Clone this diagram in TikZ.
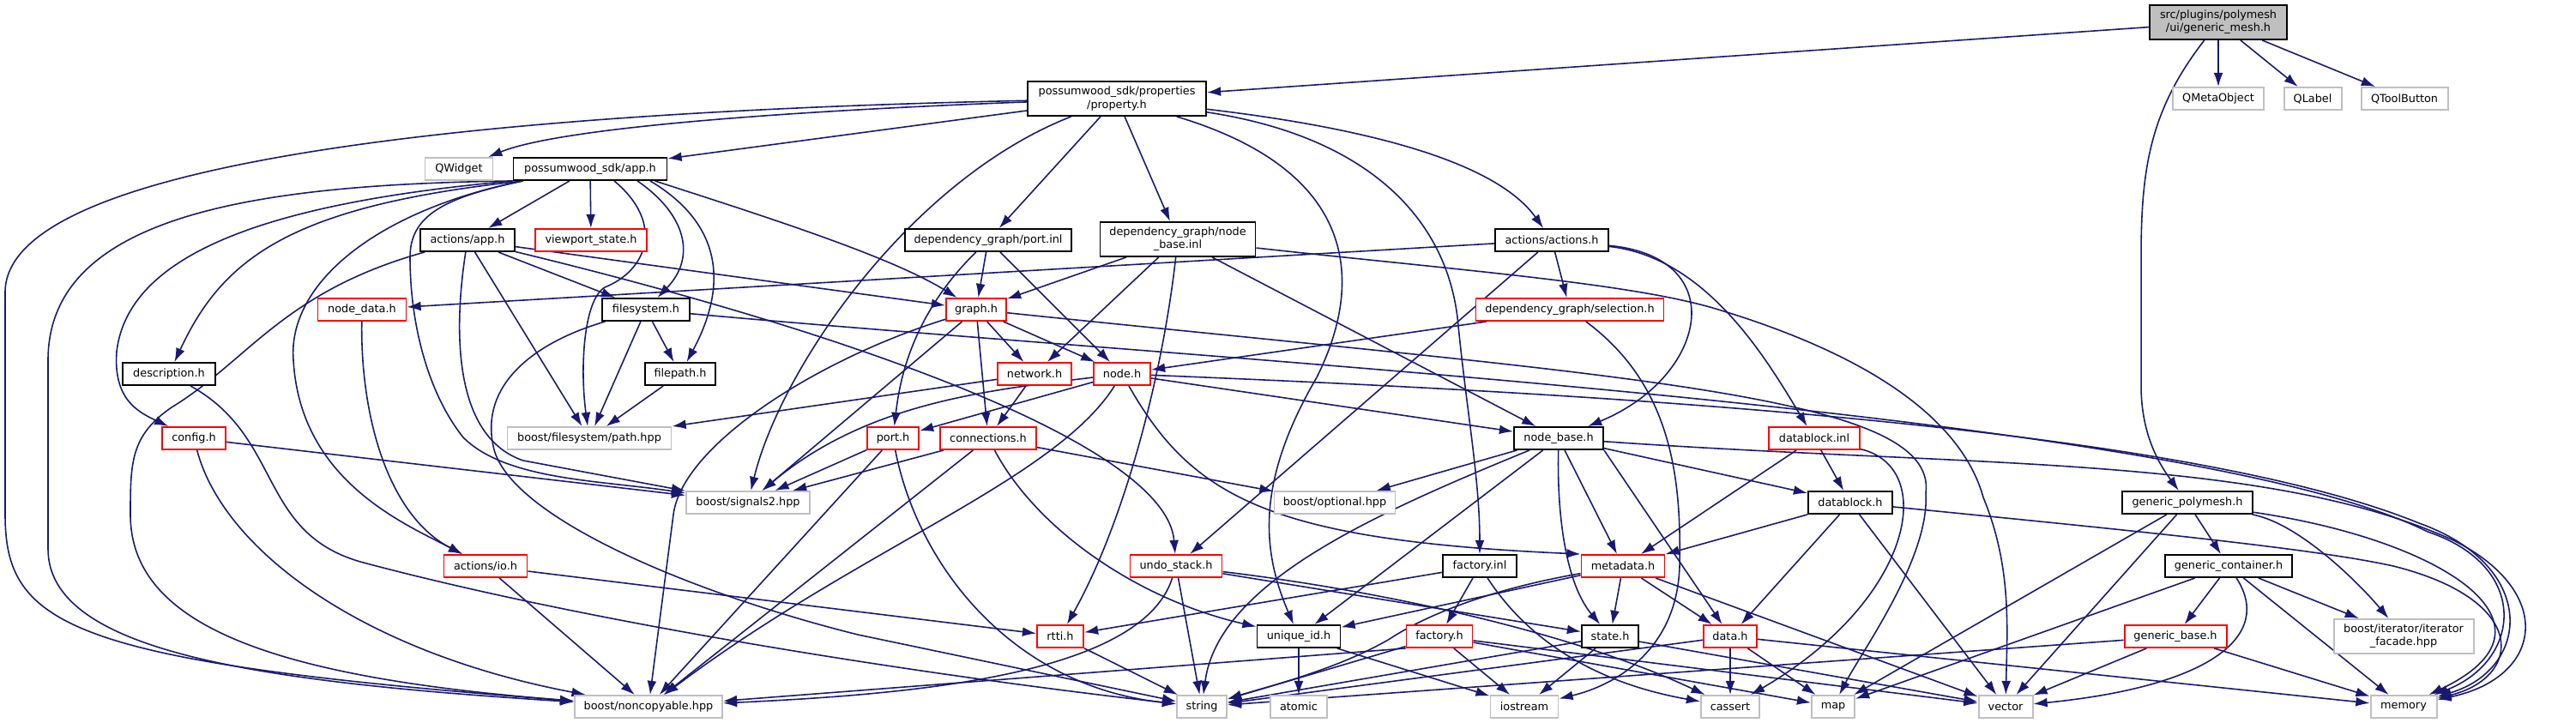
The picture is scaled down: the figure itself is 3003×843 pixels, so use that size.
\documentclass[tikz,border=0pt]{standalone}
\usepackage{fontspec}
\setmainfont{DejaVu Sans}
\usepackage{xcolor}
\usepackage{tikz}
\usetikzlibrary{arrows.meta, positioning, shapes, backgrounds}

\definecolor{edgeblue}{HTML}{191970}
\definecolor{extgray}{HTML}{BFBFBF}
\newcommand{\graphfont}{\fontsize{3.65}{4.3}\selectfont}

\begin{document}
\begin{tikzpicture}[x=0.1mm, y=-0.1mm, >={Latex[length=4.6pt,width=3.1pt]},
        every node/.style={rectangle, align=center, font=\graphfont, inner sep=0pt, minimum height=2.6mm, line width=0.55pt, fill=white},
        hdr/.style={draw=black},
        trunc/.style={draw=red},
        ext/.style={draw=extgray},
        root/.style={draw=black, fill=extgray},
        twoline/.style={minimum height=4mm},
        inc/.style={->, draw=edgeblue, line width=0.45pt}]
        \useasboundingbox (0,0) rectangle (3003,843);

        \node[root, twoline, minimum width=16mm] (genericmesh) at (2586,26) {src/plugins/polymesh\\/ui/generic\_mesh.h};
        \node[ext, minimum width=10.6mm] (qmetaobject) at (2586,115) {QMetaObject};
        \node[ext, minimum width=6.7mm] (qlabel) at (2696,115) {QLabel};
        \node[ext, minimum width=10.1mm] (qtoolbutton) at (2803,115) {QToolButton};
        \node[hdr, twoline, minimum width=20.8mm] (property) at (1302,115) {possumwood\_sdk/properties\\/property.h};
        \node[ext, minimum width=7.9mm] (qwidget) at (535,197) {QWidget};
        \node[hdr, minimum width=17.9mm] (sdkapp) at (688,197) {possumwood\_sdk/app.h};
        \node[hdr, minimum width=11mm] (actionsapp) at (545,280) {actions/app.h};
        \node[trunc, minimum width=13mm] (viewport) at (689,280) {viewport\_state.h};
        \node[hdr, minimum width=19.4mm] (portinl) at (1152,280) {dependency\_graph/port.inl};
        \node[hdr, twoline, minimum width=18.1mm] (nodebaseinl) at (1373,279) {dependency\_graph/node\\\_base.inl};
        \node[hdr, minimum width=13.2mm] (actions) at (1809,280) {actions/actions.h};
        \node[trunc, minimum width=10.3mm] (nodedata) at (422,361) {node\_data.h};
        \node[hdr, minimum width=10.2mm] (filesystem) at (753,361) {filesystem.h};
        \node[trunc, minimum width=7mm] (graphh) at (1138,361) {graph.h};
        \node[trunc, minimum width=21.9mm] (selection) at (1830,361) {dependency\_graph/selection.h};
        \node[hdr, minimum width=10.8mm] (description) at (197,436) {description.h};
        \node[hdr, minimum width=8.2mm] (filepath) at (793,436) {filepath.h};
        \node[trunc, minimum width=8.6mm] (networkh) at (1206,436) {network.h};
        \node[trunc, minimum width=6.6mm] (nodeh) at (1308,436) {node.h};
        \node[trunc, minimum width=7.4mm] (configh) at (226,511) {config.h};
        \node[ext, minimum width=19.1mm] (pathhpp) at (687,511) {boost/filesystem/path.hpp};
        \node[trunc, minimum width=6mm] (porth) at (1041,511) {port.h};
        \node[trunc, minimum width=11.2mm] (connectionsh) at (1152,511) {connections.h};
        \node[hdr, minimum width=10.4mm] (nodebase) at (1817,511) {node\_base.h};
        \node[trunc, minimum width=10.6mm] (datablockinl) at (2115,511) {datablock.inl};
        \node[ext, minimum width=14.4mm] (signals) at (872,586) {boost/signals2.hpp};
        \node[ext, minimum width=14.1mm] (optional) at (1556,586) {boost/optional.hpp};
        \node[hdr, minimum width=9.8mm] (datablock) at (2157,586) {datablock.h};
        \node[hdr, minimum width=15.2mm] (genericpolymesh) at (2550,586) {generic\_polymesh.h};
        \node[trunc, minimum width=9.7mm] (ioh) at (566,660) {actions/io.h};
        \node[trunc, minimum width=10.7mm] (undostack) at (1371,660) {undo\_stack.h};
        \node[hdr, minimum width=8.6mm] (factoryinl) at (1725,660) {factory.inl};
        \node[trunc, minimum width=9.7mm] (metadata) at (1892,660) {metadata.h};
        \node[hdr, minimum width=14.8mm] (genericcontainer) at (2598,660) {generic\_container.h};
        \node[trunc, minimum width=5.4mm] (rtti) at (1236,742) {rtti.h};
        \node[hdr, minimum width=9.7mm] (uniqueid) at (1514,742) {unique\_id.h};
        \node[trunc, minimum width=7.7mm] (factory) at (1678,742) {factory.h};
        \node[hdr, minimum width=6.6mm] (stateh) at (1877,742) {state.h};
        \node[trunc, minimum width=6.2mm] (datah) at (2017,742) {data.h};
        \node[trunc, minimum width=11.9mm] (genericbase) at (2536,742) {generic\_base.h};
        \node[ext, twoline, minimum width=16.3mm] (facade) at (2802,742) {boost/iterator/iterator\\\_facade.hpp};
        \node[ext, minimum width=17.2mm] (noncopyable) at (756,824) {boost/noncopyable.hpp};
        \node[ext, minimum width=5.8mm] (string) at (1401,824) {string};
        \node[ext, minimum width=6.6mm] (atomic) at (1514,824) {atomic};
        \node[ext, minimum width=7.9mm] (iostream) at (1777,824) {iostream};
        \node[ext, minimum width=6.8mm] (cassert) at (2017,824) {cassert};
        \node[ext, minimum width=5mm] (map) at (2137,824) {map};
        \node[ext, minimum width=6.3mm] (vector) at (2338,824) {vector};
        \node[ext, minimum width=7.7mm] (memory) at (2802,824) {memory};

        \begin{scope}[on background layer]
        \draw[inc] (genericmesh) -- (property);
        \draw[inc] (genericmesh) -- (qmetaobject);
        \draw[inc] (genericmesh) -- (qlabel);
        \draw[inc] (genericmesh) -- (qtoolbutton);
        \draw[inc] (genericmesh) .. controls (2505,130) and (2496,200) .. (2496,300) -- (2496,450) .. controls (2496,510) and (2520,545) .. (genericpolymesh);

        \draw[inc] (property) .. controls (900,130) and (650,150) .. (qwidget);
        \draw[inc] (property) -- (sdkapp);
        \draw[inc] (property) .. controls (700,128) and (8,170) .. (6,340) -- (6,600) .. controls (6,730) and (80,772) .. (noncopyable);
        \draw[inc] (property) .. controls (1060,210) and (910,430) .. (signals);
        \draw[inc] (property) -- (portinl);
        \draw[inc] (property) -- (nodebaseinl);
        \draw[inc] (property) .. controls (1585,200) and (1590,330) .. (1535,440) .. controls (1465,560) and (1470,640) .. (uniqueid);
        \draw[inc] (property) .. controls (1600,160) and (1690,260) .. (1700,380) .. controls (1710,480) and (1725,560) .. (factoryinl);
        \draw[inc] (property) .. controls (1600,150) and (1745,190) .. (actions);

        \draw[inc] (sdkapp.south west) .. controls (300,215) and (56,250) .. (56,420) -- (56,640) .. controls (56,760) and (300,795) .. (noncopyable);
        \draw[inc] (sdkapp.south west) .. controls (330,235) and (150,290) .. (136,410) .. controls (132,465) and (160,480) .. (configh);
        \draw[inc] ([xshift=1.2mm]sdkapp.south west) .. controls (340,240) and (260,300) .. (description);
        \draw[inc] ([xshift=1.2mm]sdkapp.south west) .. controls (440,245) and (335,330) .. (342,420) .. controls (350,560) and (470,610) .. (ioh);
        \draw[inc] ([xshift=1.2mm]sdkapp.south west) .. controls (520,230) and (478,250) .. (478,300) .. controls (478,380) and (500,460) .. (540,510) .. controls (590,560) and (700,560) .. (signals);
        \draw[inc] (sdkapp) -- (actionsapp);
        \draw[inc] (sdkapp) -- (viewport);
        \draw[inc] ([xshift=2.8mm]sdkapp.south) .. controls (775,260) and (755,315) .. (705,335) .. controls (680,350) and (676,430) .. (pathhpp);
        \draw[inc] ([xshift=5.5mm]sdkapp.south) .. controls (800,250) and (812,300) .. (filesystem);
        \draw[inc] ([xshift=7mm]sdkapp.south) .. controls (840,260) and (850,330) .. (filepath);
        \draw[inc] ([xshift=-1.5mm]sdkapp.south east) .. controls (900,255) and (1040,300) .. (graphh);

        \draw[inc] (actionsapp) .. controls (330,340) and (290,420) .. (200,475) .. controls (152,508) and (152,540) .. (152,600) .. controls (152,730) and (320,790) .. (noncopyable);
        \draw[inc] (actionsapp) -- (filesystem);
        \draw[inc] (actionsapp) -- (pathhpp);
        \draw[inc] (actionsapp) .. controls (528,390) and (530,510) .. (610,537) -- (signals);
        \draw[inc] (actionsapp) -- (graphh);
        \draw[inc] (actionsapp) .. controls (1000,390) and (1360,520) .. (undostack);

        \draw[inc] (portinl) -- (graphh);
        \draw[inc] (portinl) -- (nodeh);
        \draw[inc] (portinl) .. controls (1060,370) and (1048,450) .. (porth);

        \draw[inc] (nodebaseinl) -- (graphh);
        \draw[inc] (nodebaseinl) -- (networkh);
        \draw[inc] (nodebaseinl) -- (nodebase);
        \draw[inc] (nodebaseinl) .. controls (1355,440) and (1310,610) .. (rtti);
        \draw[inc] (nodebaseinl) .. controls (1700,315) and (1900,330) .. (2000,360) .. controls (2200,420) and (2290,500) .. (2312,580) .. controls (2345,660) and (2340,730) .. (vector);

        \draw[inc] (actions) -- (nodedata);
        \draw[inc] (actions) -- (selection);
        \draw[inc] (actions) .. controls (2020,300) and (1990,440) .. (nodebase);
        \draw[inc] (actions) -- (undostack);
        \draw[inc] (actions) .. controls (1990,300) and (2060,420) .. (datablockinl);

        \draw[inc] (nodedata) .. controls (420,480) and (450,600) .. (ioh);

        \draw[inc] (filesystem) -- (filepath);
        \draw[inc] (filesystem) -- (pathhpp);
        \draw[inc] (filesystem) .. controls (620,400) and (560,450) .. (575,520) .. controls (590,600) and (800,690) .. (1000,740) -- (string);
        \draw[inc] (filesystem) .. controls (1400,420) and (2550,480) .. (2830,620) .. controls (2950,660) and (2940,770) .. (memory);

        \draw[inc] (filepath) -- (pathhpp);

        \draw[inc] (graphh) -- (networkh);
        \draw[inc] (graphh) -- (nodeh);
        \draw[inc] (graphh) -- (connectionsh);
        \draw[inc] (graphh) .. controls (950,420) and (795,520) .. (785,600) -- (noncopyable);
        \draw[inc] (graphh) -- (signals);
        \draw[inc] (graphh) .. controls (1900,440) and (2260,460) .. (2245,575) .. controls (2250,650) and (2170,760) .. (map);

        \draw[inc] (selection) -- (nodeh);
        \draw[inc] (selection) .. controls (1950,450) and (1960,560) .. (1958,660) .. controls (1955,760) and (1880,800) .. (iostream);

        \draw[inc] (description) .. controls (330,510) and (300,620) .. (420,655) .. controls (700,730) and (1100,790) .. (string);

        \draw[inc] (networkh) -- (pathhpp);
        \draw[inc] (networkh) -- (connectionsh);

        \draw[inc] (nodeh) -- (porth);
        \draw[inc] (nodeh) -- (nodebase);
        \draw[inc] (nodeh) .. controls (1150,455) and (1010,470) .. (signals);
        \draw[inc] (nodeh) .. controls (1230,560) and (1000,640) .. (noncopyable);
        \draw[inc] (nodeh) .. controls (1390,580) and (1480,630) .. (metadata.north west);
        \draw[inc] (nodeh) .. controls (1900,460) and (2550,500) .. (2820,610) .. controls (2960,660) and (2950,780) .. (memory);

        \draw[inc] (configh) -- (signals);
        \draw[inc] (configh) .. controls (260,640) and (420,760) .. (noncopyable);

        \draw[inc] (porth) -- (signals);
        \draw[inc] (porth) -- (noncopyable);
        \draw[inc] (porth) .. controls (1070,660) and (1180,800) .. (string);

        \draw[inc] (connectionsh) -- (signals);
        \draw[inc] (connectionsh) -- (noncopyable);
        \draw[inc] (connectionsh) .. controls (1210,620) and (1330,700) .. (uniqueid);
        \draw[inc] (connectionsh) -- (optional);

        \draw[inc] (nodebase) -- (optional);
        \draw[inc] (nodebase) -- (uniqueid);
        \draw[inc] (nodebase) .. controls (1600,600) and (1420,680) .. (string);
        \draw[inc] (nodebase) -- (metadata);
        \draw[inc] (nodebase) .. controls (1815,600) and (1825,680) .. (stateh);
        \draw[inc] (nodebase.south east) -- (datah);
        \draw[inc] (nodebase) -- (datablock);
        \draw[inc] (nodebase) .. controls (2300,545) and (2640,530) .. (2860,630) .. controls (2980,690) and (2965,790) .. (memory);

        \draw[inc] (datablockinl) -- (metadata);
        \draw[inc] (datablockinl) -- (datablock);
        \draw[inc] (datablockinl) .. controls (2260,545) and (2230,700) .. (cassert);

        \draw[inc] (datablock) -- (metadata);
        \draw[inc] (datablock) -- (datah);
        \draw[inc] (datablock) -- (vector);
        \draw[inc] (datablock) .. controls (2500,620) and (2700,640) .. (2790,660) .. controls (2950,700) and (2940,790) .. (memory);

        \draw[inc] (genericpolymesh) -- (genericcontainer);
        \draw[inc] (genericpolymesh) .. controls (2680,610) and (2750,680) .. (facade);
        \draw[inc] (genericpolymesh) -- (map);
        \draw[inc] (genericpolymesh) -- (vector);
        \draw[inc] (genericpolymesh) .. controls (2850,630) and (3000,730) .. (memory);

        \draw[inc] (ioh) -- (noncopyable);
        \draw[inc] (ioh) -- (rtti);

        \draw[inc] (undostack) .. controls (1330,790) and (1050,810) .. (noncopyable);
        \draw[inc] (undostack) -- (string);
        \draw[inc] (undostack) -- (stateh);
        \draw[inc] (undostack) .. controls (1620,690) and (1840,740) .. (cassert);

        \draw[inc] (factoryinl) -- (rtti);
        \draw[inc] (factoryinl) -- (factory);
        \draw[inc] (factoryinl) .. controls (1790,760) and (1880,800) .. (cassert);

        \draw[inc] (metadata) -- (uniqueid);
        \draw[inc] (metadata) .. controls (1720,690) and (1650,725) .. (1620,745) .. controls (1560,780) and (1480,800) .. (string);
        \draw[inc] (metadata) -- (stateh);
        \draw[inc] (metadata) -- (datah);
        \draw[inc] (metadata) -- (vector);

        \draw[inc] (genericcontainer) -- (genericbase);
        \draw[inc] (genericcontainer) -- (facade);
        \draw[inc] (genericcontainer) -- (map);
        \draw[inc] (genericcontainer) .. controls (2650,740) and (2580,800) .. (vector);
        \draw[inc] (genericcontainer) -- (memory);

        \draw[inc] (rtti) -- (string);

        \draw[inc] (uniqueid) -- (atomic);
        \draw[inc] (uniqueid) -- (iostream);

        \draw[inc] (factory.south west) -- (noncopyable);
        \draw[inc] (factory) -- (string);
        \draw[inc] (factory) -- (iostream);
        \draw[inc] (factory) -- (map);
        \draw[inc] (factory) -- (vector);

        \draw[inc] (stateh) -- (string);
        \draw[inc] (stateh) -- (iostream);
        \draw[inc] (stateh) -- (vector);

        \draw[inc] (datah) -- (cassert);
        \draw[inc] (datah) -- (map);
        \draw[inc] (datah) -- (string);
        \draw[inc] (datah) -- (memory);

        \draw[inc] (genericbase) -- (string);
        \draw[inc] (genericbase) -- (vector);
        \draw[inc] (genericbase) -- (memory);
        \end{scope}
\end{tikzpicture}
\end{document}
